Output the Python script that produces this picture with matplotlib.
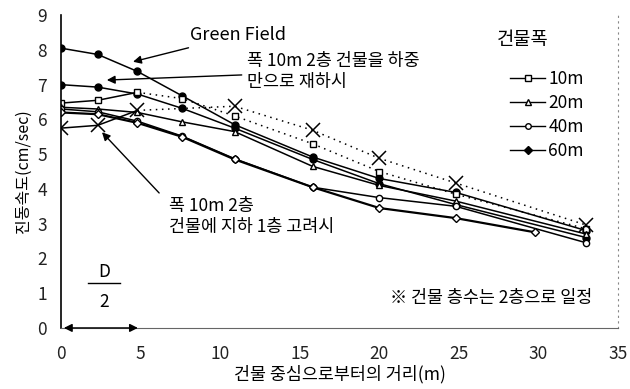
import numpy as np
import matplotlib.pyplot as plt
from matplotlib.lines import Line2D

plt.rcParams['font.family'] = ['Noto Sans CJK KR', 'DejaVu Sans']

# distance from building centre (m)
x_all = [0, 2.3, 4.8, 7.6, 10.9, 15.8, 20, 24.8, 33]
green_field = [8.05, 7.87, 7.38, 6.68, 5.85, 4.92, 4.3, 3.9, 2.8]
load_only = [7.0, 6.93, 6.73, 6.32, 5.75, 4.85, 4.15, 3.55, 2.6]
w10 = [6.47, 6.55, 6.78, 6.6, 6.1, 5.3, 4.5, 3.85, 2.85]
w20 = [6.35, 6.3, 6.2, 5.93, 5.65, 4.65, 4.1, 3.65, 2.7]
w40 = [6.3, 6.22, 5.95, 5.52, 4.87, 4.05, 3.75, 3.5, 2.45]
x_60 = [0, 2.3, 4.8, 7.6, 10.9, 15.8, 20, 24.8, 29.8]
w60 = [6.2, 6.15, 5.9, 5.5, 4.85, 4.05, 3.45, 3.16, 2.75]
x_base = [0, 2.3, 4.8, 10.9, 15.8, 20, 24.8, 33]
basement = [5.75, 5.83, 6.26, 6.38, 5.69, 4.88, 4.17, 2.96]

legend_labels = ['10m', '20m', '40m', '60m']

fig = plt.figure(figsize=(6.3, 3.89), dpi=100)
ax = fig.add_axes([0.097, 0.157, 0.884, 0.804])

k = dict(color='black', lw=1.1)
ax.plot(x_all, green_field, marker='o', ms=5, **k)
ax.plot(x_all, load_only, marker='o', ms=5, **k)
# 10m: solid near the building, dotted further out
ax.plot(x_all[:3], w10[:3], **k)
ax.plot(x_all[2:], w10[2:], ls=(0, (1, 3)), **k)
ax.plot(x_all, w10, ls='none', marker='s', ms=5, mfc='white', mec='black')
ax.plot(x_all, w20, marker='^', ms=5, mfc='white', **k)
ax.plot(x_all, w40, marker='o', ms=4.5, mfc='white', **k)
ax.plot(x_60, w60, marker='D', ms=4, mfc='white', color='black', lw=1.6)
ax.plot(x_base[:3], basement[:3], **k)
ax.plot(x_base[2:], basement[2:], ls=(0, (1, 3)), **k)
ax.plot(x_base, basement, ls='none', marker='x', ms=10, mew=1.1, color='black')

ax.set_xlim(0, 35)
ax.set_ylim(0, 9)
ax.set_xticks(range(0, 36, 5))
ax.set_yticks(range(0, 10))
ax.tick_params(length=0, labelsize=12.5, colors='#222222')
ax.tick_params(axis='x', pad=12)
ax.tick_params(axis='y', pad=10)
ax.spines['top'].set_visible(False)
ax.spines['right'].set_linestyle((0, (1, 4)))
ax.spines['right'].set_color('#888888')
ax.spines['bottom'].set_linestyle((0, (2, 1)))
ax.spines['bottom'].set_color('#666666')
ax.spines['left'].set_linewidth(1.2)

ax.set_xlabel('건물 중심으로부터의 거리(m)', fontsize=12.5, labelpad=2)
ax.set_ylabel('진동속도(cm/sec)', fontsize=11.5, labelpad=4)

arw = dict(arrowstyle='-|>', color='black', lw=1.0, mutation_scale=12)
ax.annotate('Green Field', xy=(4.35, 7.64), xytext=(8.1, 8.42),
            fontsize=13, va='center', ha='left', arrowprops=arw)
ax.annotate('폭 10m 2층 건물을 하중\n만으로 재하시', xy=(2.7, 7.13), xytext=(11.7, 7.38),
            fontsize=12.5, va='center', ha='left', linespacing=1.15, arrowprops=arw)
ax.annotate('폭 10m 2층\n건물에 지하 1층 고려시', xy=(2.45, 5.69), xytext=(6.8, 3.2),
            fontsize=12.5, va='center', ha='left', linespacing=1.25,
            arrowprops=dict(arrowstyle='-|>', color='black', lw=1.0, mutation_scale=12,
                            relpos=(-0.05, 1.05)))
ax.text(33.4, 0.85, '※ 건물 층수는 2층으로 일정', fontsize=12.5, ha='right', va='center')

# D/2 marker
ax.text(2.7, 1.62, 'D', fontsize=12.5, ha='center', va='center')
ax.plot([1.7, 3.7], [1.29, 1.29], color='black', lw=1.0)
ax.text(2.7, 0.75, '2', fontsize=12.5, ha='center', va='center')
ax.annotate('', xy=(0, 0.0), xytext=(5, 0.0),
            arrowprops=dict(arrowstyle='<|-|>', color='black', lw=1.0, mutation_scale=12))

# legend: title placed on its own, entries below
fig.text(497 / 630, 1 - 40 / 389, '건물폭', fontsize=13.5, ha='left', va='center')
handles = [Line2D([], [], color='black', lw=1.0, marker=m, ms=4, mfc=f)
           for m, f in [('s', 'white'), ('^', 'white'), ('o', 'white'), ('D', 'black')]]
leg = fig.legend(handles, legend_labels, loc='upper left',
                 bbox_to_anchor=(498 / 630, 1 - 58 / 389), frameon=False, fontsize=12.5,
                 handlelength=2.0, handletextpad=0.2,
                 labelspacing=0.35, borderpad=0.2)

plt.savefig('out.png', dpi=100)
